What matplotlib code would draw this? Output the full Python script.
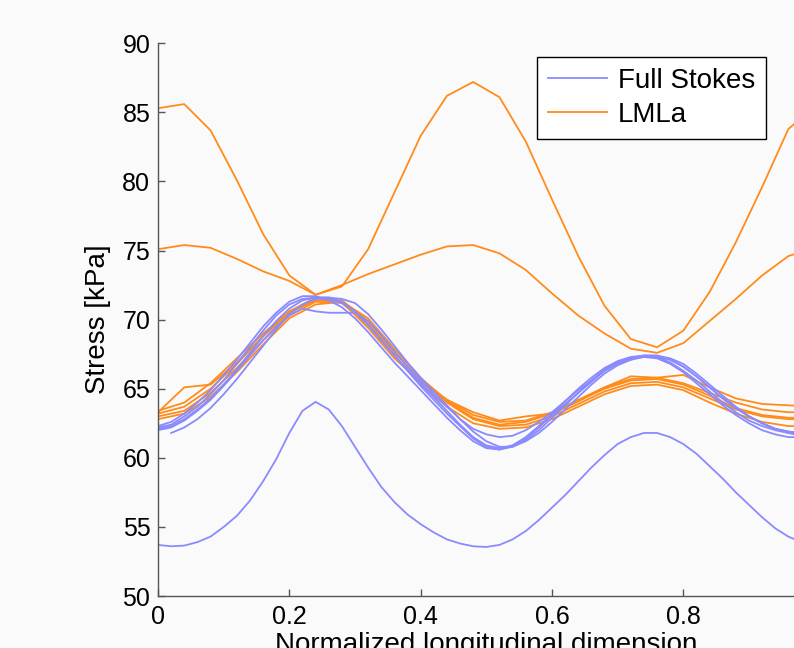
import numpy as np
import matplotlib.pyplot as plt

# grids along the normalized longitudinal dimension
x = np.linspace(0, 1, 26)          # coarse grid (LMLa)
xf = np.linspace(0, 1, 51)         # fine grid (Full Stokes)
xf_shift = np.linspace(0.02, 1, 50)

# Full Stokes model runs
fs_a = [62.1, 62.3, 62.8, 63.5, 64.3, 65.3, 66.4, 67.6, 68.8, 69.9,
        70.8, 71.4, 71.6, 71.6, 71.3, 70.6, 69.6, 68.5, 67.4, 66.4,
        65.4, 64.4, 63.4, 62.4, 61.5, 60.9, 60.7, 60.9, 61.4, 62.2,
        63.1, 63.9, 64.7, 65.5, 66.3, 66.9, 67.2, 67.4, 67.4, 67.1,
        66.6, 65.9, 65.1, 64.3, 63.6, 63.0, 62.5, 62.1, 61.9, 61.8,
        61.9]
fs_b = [62.3, 62.6, 63.2, 64.0, 64.9, 66.0, 67.1, 68.3, 69.5, 70.5,
        71.3, 71.7, 71.7, 71.4, 70.9, 70.1, 69.1, 68.0, 66.9, 65.9,
        64.9, 63.9, 62.9, 62.0, 61.2, 60.7, 60.6, 60.9, 61.5, 62.3,
        63.2, 64.1, 65.0, 65.8, 66.5, 67.0, 67.3, 67.4, 67.3, 66.9,
        66.3, 65.6, 64.8, 64.0, 63.3, 62.7, 62.3, 62.0, 61.8, 61.7,
        61.8]
fs_c = [62.0, 62.2, 62.7, 63.4, 64.2, 65.2, 66.3, 67.4, 68.5, 69.5,
        70.3, 70.8, 70.6, 70.5, 70.5, 70.5, 69.9, 68.9, 67.7, 66.6,
        65.6, 64.6, 63.7, 62.8, 62.1, 61.7, 61.5, 61.6, 62.0, 62.6,
        63.3, 64.1, 64.9, 65.6, 66.3, 66.8, 67.1, 67.3, 67.3, 67.1,
        66.6, 65.9, 65.1, 64.3, 63.6, 63.0, 62.5, 62.1, 61.8, 61.6,
        61.6]
fs_d = [62.2, 62.4, 63.0, 63.7, 64.6, 65.6, 66.8, 68.0, 69.2, 70.3,
        71.1, 71.5, 71.6, 71.6, 71.5, 71.2, 70.4, 69.3, 68.1, 66.9,
        65.8, 64.8, 63.8, 62.8, 61.9, 61.2, 60.8, 60.8, 61.2, 61.8,
        62.6, 63.5, 64.4, 65.3, 66.1, 66.7, 67.1, 67.4, 67.4, 67.2,
        66.8, 66.1, 65.3, 64.5, 63.7, 63.0, 62.5, 62.1, 61.9, 61.8,
        61.9]
fs_e = [61.8, 62.2, 62.8, 63.6, 64.6, 65.7, 66.9, 68.1, 69.3, 70.4,
        71.1, 71.5, 71.5, 71.2, 70.6, 69.6, 68.5, 67.4, 66.3, 65.2,
        64.2, 63.2, 62.3, 61.4, 60.8, 60.6, 60.8, 61.3, 62.0, 62.9,
        63.8, 64.7, 65.6, 66.4, 66.9, 67.2, 67.3, 67.2, 66.8, 66.2,
        65.4, 64.6, 63.8, 63.1, 62.5, 62.0, 61.7, 61.5, 61.5, 61.6]
fs_low = [53.7, 53.6, 53.65, 53.9, 54.3, 55.0, 55.8, 56.9, 58.3, 59.9,
          61.8, 63.4, 64.05, 63.5, 62.3, 60.8, 59.3, 57.9, 56.8, 55.9,
          55.2, 54.6, 54.1, 53.8, 53.6, 53.55, 53.7, 54.1, 54.7, 55.5,
          56.4, 57.3, 58.3, 59.3, 60.2, 61.0, 61.5, 61.8, 61.8, 61.5,
          61.0, 60.3, 59.4, 58.5, 57.5, 56.6, 55.7, 54.9, 54.3, 53.9,
          53.7]

# LMLa model runs
lm_big = [85.3, 85.6, 83.7, 80.1, 76.2, 73.2, 71.8, 72.4, 75.1, 79.2, 83.3, 86.2, 87.2,
          86.1, 82.9, 78.7, 74.6, 71.0, 68.6, 68.0, 69.2, 72.0, 75.6, 79.6, 83.8, 85.4]
lm_mid = [75.1, 75.4, 75.2, 74.4, 73.5, 72.8, 71.8, 72.5, 73.3, 74.0, 74.7, 75.3, 75.4,
          74.8, 73.6, 71.9, 70.3, 69.0, 67.9, 67.6, 68.3, 69.9, 71.5, 73.2, 74.6, 75.2]
lm_1 = [63.3, 65.1, 65.3, 66.9, 68.8, 70.6, 71.6, 71.3, 69.4, 67.2, 65.5, 64.2, 63.3,
        62.7, 63.0, 63.2, 64.1, 65.1, 65.9, 65.8, 66.0, 65.1, 64.3, 63.9, 63.8, 63.7]
lm_2 = [63.4, 64.0, 65.4, 67.2, 69.0, 70.6, 71.4, 71.3, 69.8, 67.6, 65.7, 64.2, 63.1,
        62.6, 62.7, 63.3, 64.2, 65.1, 65.7, 65.8, 65.4, 64.7, 64.0, 63.5, 63.3, 63.3]
lm_3 = [63.2, 63.7, 65.0, 66.8, 68.8, 70.5, 71.4, 71.4, 69.9, 67.7, 65.6, 64.0, 62.8,
        62.3, 62.4, 63.0, 63.9, 64.8, 65.4, 65.5, 65.1, 64.3, 63.5, 63.0, 62.8, 62.8]
lm_4 = [63.0, 63.4, 64.7, 66.5, 68.5, 70.3, 71.3, 71.2, 69.6, 67.4, 65.3, 63.7, 62.5,
        62.1, 62.2, 62.8, 63.7, 64.6, 65.2, 65.3, 64.9, 64.0, 63.2, 62.6, 62.3, 62.3]
lm_5 = [62.8, 63.2, 64.4, 66.2, 68.2, 70.1, 71.1, 71.3, 70.1, 67.9, 65.8, 64.1, 62.9,
        62.4, 62.6, 63.2, 64.1, 65.0, 65.6, 65.7, 65.3, 64.5, 63.6, 63.1, 62.9, 62.9]

fs_color = "#8a8aff"
lm_color = "#ff8c1a"
bg = "#fafafa"

plt.rcParams['font.family'] = ['Liberation Sans', 'DejaVu Sans']

fig = plt.figure(figsize=(7.94, 6.48), dpi=100, facecolor=bg)
ax = fig.add_axes([0.199, 0.0802, 0.827, 0.853], facecolor=bg)

# LMLa curves
for y in [lm_big, lm_mid, lm_1, lm_2, lm_3, lm_4, lm_5]:
    lm_line, = ax.plot(x, y, color=lm_color, lw=1.3)

# Full Stokes curves
for y in [fs_a, fs_b, fs_c, fs_d, fs_low]:
    fs_line, = ax.plot(xf, y, color=fs_color, lw=1.3)
ax.plot(xf_shift, fs_e, color=fs_color, lw=1.3)

ax.set_xlim(0, 1)
ax.set_ylim(50, 90)
ax.set_xticks([0, 0.2, 0.4, 0.6, 0.8, 1])
ax.set_xticklabels(["0", "0.2", "0.4", "0.6", "0.8", "1"])
ax.set_yticks(range(50, 91, 5))

for s in ["top", "right"]:
    ax.spines[s].set_visible(False)
for s in ["left", "bottom"]:
    ax.spines[s].set_color("#555555")
    ax.spines[s].set_linewidth(1.0)

ax.tick_params(axis="both", direction="in", length=5, width=1.0, color="#555555",
               labelsize=18, labelcolor="black")
ax.tick_params(axis="x", pad=6.5)
ax.tick_params(axis="y", pad=5.5)

ax.set_xlabel("Normalized longitudinal dimension", fontsize=20, labelpad=2)
ax.set_ylabel("Stress [kPa]", fontsize=20, labelpad=8)

leg = fig.legend([fs_line, lm_line], ["Full Stokes", "LMLa"], loc="upper left",
                 bbox_to_anchor=(537.3 / 794, 1 - 56.7 / 648), borderaxespad=0,
                 fontsize=20, frameon=True, fancybox=False, handlelength=2.1,
                 handletextpad=0.4, borderpad=0.4, labelspacing=0.3)
leg.get_frame().set_edgecolor("black")
leg.get_frame().set_linewidth(1.0)
leg.get_frame().set_facecolor("white")
leg.get_frame().set_alpha(1)

fig.savefig("out.png", dpi=100, facecolor=bg)
